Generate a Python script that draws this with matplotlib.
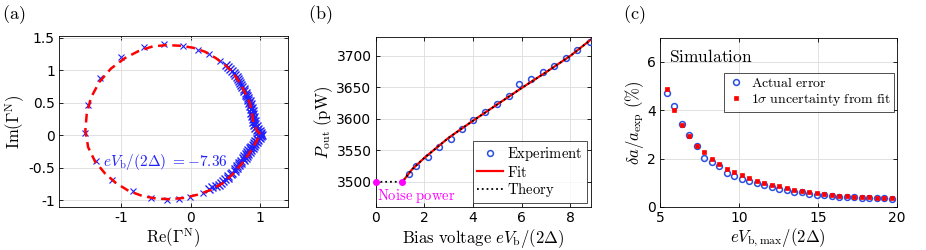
import numpy as np
import matplotlib.pyplot as plt

plt.rcParams['mathtext.fontset'] = 'cm'
plt.rcParams['font.family'] = 'DejaVu Sans'
plt.rcParams['font.size'] = 10

# (a) measured reflection coefficient (x markers) and fit (dashed)
# sparse points around the circle
re_sparse = [0.42, 0.26, 0.10, -0.11, -0.38, -0.67, -1.00, -1.31, -1.48, -1.53,
             -1.36, -1.13, -0.83, -0.57, -0.35, -0.17, -0.01, 0.18]
im_sparse = [1.15, 1.25, 1.31, 1.37, 1.40, 1.36, 1.20, 0.89, 0.47, 0.04,
             -0.39, -0.68, -0.86, -0.96, -0.99, -0.97, -0.95, -0.88]
# dense points near the cusp, upper branch
re_upper = [0.50, 0.53, 0.56, 0.59, 0.62, 0.64, 0.66, 0.68, 0.70, 0.71, 0.73,
            0.74, 0.76, 0.77, 0.79, 0.80, 0.81, 0.83, 0.82, 0.85, 0.84, 0.86,
            0.85, 0.88, 0.86, 0.89, 0.87, 0.90, 0.88, 0.91, 0.89, 0.92, 0.90,
            0.93, 0.91, 0.95, 0.93, 0.97, 0.95, 0.99, 0.97, 1.01, 0.99, 1.02, 1.00]
im_upper = [1.09, 1.06, 1.03, 0.99, 0.96, 0.93, 0.90, 0.87, 0.84, 0.81, 0.78,
            0.75, 0.72, 0.69, 0.66, 0.63, 0.60, 0.57, 0.55, 0.53, 0.50, 0.48,
            0.45, 0.43, 0.40, 0.38, 0.35, 0.33, 0.30, 0.28, 0.25, 0.23, 0.20,
            0.18, 0.16, 0.14, 0.12, 0.10, 0.08, 0.07, 0.05, 0.04, 0.02, 0.01, 0.00]
# dense points near the cusp, lower branch
re_lower = [1.01, 0.98, 0.99, 0.96, 0.97, 0.93, 0.95, 0.91, 0.93, 0.89, 0.91,
            0.87, 0.89, 0.85, 0.87, 0.83, 0.85, 0.81, 0.83, 0.79, 0.81, 0.77,
            0.79, 0.75, 0.76, 0.72, 0.73, 0.69, 0.70, 0.66, 0.67, 0.63, 0.63,
            0.59, 0.58, 0.54, 0.53, 0.49, 0.47, 0.43, 0.40, 0.36, 0.31, 0.26]
im_lower = [-0.01, -0.02, -0.04, -0.05, -0.07, -0.08, -0.10, -0.11, -0.13, -0.14,
            -0.16, -0.17, -0.19, -0.20, -0.22, -0.23, -0.25, -0.26, -0.28, -0.29,
            -0.31, -0.32, -0.34, -0.35, -0.38, -0.39, -0.42, -0.43, -0.46, -0.47,
            -0.50, -0.52, -0.55, -0.57, -0.60, -0.62, -0.65, -0.67, -0.70, -0.73,
            -0.76, -0.78, -0.80, -0.83]
re_fit = [1.00, 0.95, 0.90, 0.88, 0.85, 0.80, 0.72, 0.62, 0.50, 0.36, 0.20, 0.03,
          -0.15, -0.35, -0.55, -0.75, -0.95, -1.15, -1.32, -1.44, -1.50, -1.52,
          -1.48, -1.38, -1.24, -1.08, -0.90, -0.70, -0.50, -0.30, -0.10, 0.10,
          0.28, 0.45, 0.60, 0.73, 0.84, 0.93, 1.00]
im_fit = [0.02, 0.08, 0.20, 0.35, 0.50, 0.62, 0.78, 0.95, 1.08, 1.19, 1.29, 1.35,
          1.38, 1.39, 1.37, 1.30, 1.19, 1.03, 0.82, 0.58, 0.33, 0.08,
          -0.18, -0.40, -0.58, -0.73, -0.85, -0.93, -0.97, -0.98, -0.96, -0.91,
          -0.84, -0.74, -0.60, -0.44, -0.28, -0.12, 0.02]

# (b) output power vs bias voltage
v_exp = [1.39, 1.66, 2.14, 2.62, 3.10, 3.55, 4.02, 4.51, 4.99, 5.46, 5.91,
         6.39, 6.86, 7.35, 7.81, 8.27, 8.79]
p_exp = [3513, 3525, 3540, 3556, 3568, 3584, 3598, 3611, 3623, 3637, 3656,
         3664, 3674, 3684, 3696, 3710, 3722]
v_fit = [1.1, 1.5, 2.0, 3.0, 4.0, 5.0, 6.0, 7.0, 8.0, 8.85]
p_fit = [3500, 3520, 3538, 3570, 3597, 3623, 3649, 3674, 3700, 3726]
v_th = [0.0, 1.1, 1.5, 2.0, 3.0, 4.0, 5.0, 6.0, 7.0, 8.0, 8.85]
p_th = [3500, 3500, 3520, 3538, 3570, 3597, 3623, 3649, 3674, 3700, 3726]
v_noise = [0.0, 1.1]
p_noise = [3500, 3500]

# (c) simulated relative error
vmax = [5.42, 5.89, 6.37, 6.84, 7.32, 7.80, 8.27, 8.76, 9.23, 9.69, 10.18,
        10.64, 11.13, 11.59, 12.08, 12.54, 13.03, 13.49, 13.98, 14.44, 14.93,
        15.39, 15.88, 16.35, 16.83, 17.30, 17.78, 18.25, 18.73, 19.20, 19.68]
err_actual = [4.71, 4.16, 3.44, 2.99, 2.51, 2.01, 1.86, 1.69, 1.41, 1.30, 1.14,
              1.08, 1.00, 0.93, 0.83, 0.76, 0.71, 0.64, 0.60, 0.54, 0.51,
              0.48, 0.46, 0.43, 0.42, 0.40, 0.39, 0.37, 0.37, 0.36, 0.35]
err_fit = [4.89, 4.02, 3.41, 2.92, 2.54, 2.26, 1.97, 1.77, 1.59, 1.44, 1.32,
           1.19, 1.09, 1.00, 0.93, 0.85, 0.78, 0.72, 0.67, 0.61, 0.57,
           0.54, 0.50, 0.47, 0.44, 0.43, 0.42, 0.40, 0.39, 0.37, 0.36]

fig = plt.figure(figsize=(9.26, 2.5), dpi=100)
axa = fig.add_axes([0.0637, 0.172, 0.2473, 0.684])
axb = fig.add_axes([0.4057, 0.172, 0.2325, 0.680])
axc = fig.add_axes([0.7127, 0.172, 0.2556, 0.677])


def style(ax):
    ax.grid(True, color='#dcdcdc', lw=0.6)
    ax.set_axisbelow(True)
    ax.tick_params(direction='in', top=True, right=True, length=3, width=0.6,
                   labelsize=10, pad=3)
    for s in ax.spines.values():
        s.set_linewidth(0.6)


# panel a
blue = '#2020ff'
axa.plot(re_sparse, im_sparse, 'x', color=blue, ms=4, mew=0.8, zorder=2)
axa.plot(re_upper, im_upper, 'x', color=blue, ms=5.2, mew=1.0, zorder=2)
axa.plot(re_lower, im_lower, 'x', color=blue, ms=5.2, mew=1.0, zorder=2)
axa.plot(re_fit, im_fit, color='red', lw=1.8, dashes=(3.5, 2.2), zorder=3)
axa.text(-1.27, -0.41, r'$eV_\mathrm{b}/(2\Delta)\ {=}{-}7.36$',
         color=blue, fontsize=11, va='center')
axa.set_xlim(-1.9, 1.4)
axa.set_ylim(-1.1, 1.53)
axa.set_xticks([-1, 0, 1])
axa.set_yticks([-1, -0.5, 0, 0.5, 1, 1.5])
axa.set_yticklabels(['-1', '-0.5', '0', '0.5', '1', '1.5'])
axa.set_xticklabels(['-1', '0', '1'])
axa.set_xlabel(r'$\mathrm{Re}(\Gamma^\mathrm{N})$', fontsize=12, labelpad=1)
axa.set_ylabel(r'$\mathrm{Im}(\Gamma^\mathrm{N})$', fontsize=12, labelpad=1)
style(axa)

# panel b
axb.plot(v_exp, p_exp, 'o', mfc='none', mec='#2a4fe0', ms=4.2, mew=1.1,
         label=r'$\mathrm{Experiment}$', zorder=3)
axb.plot(v_fit, p_fit, '-', color='red', lw=1.6, label=r'$\mathrm{Fit}$', zorder=4)
axb.plot(v_th, p_th, ':', color='black', lw=1.3, label=r'$\mathrm{Theory}$', zorder=5)
axb.plot(v_noise, p_noise, 'o', color='magenta', ms=4, zorder=6, clip_on=False)
axb.text(0.05, 3491, r'$\mathrm{Noise\ power}$', color='magenta', fontsize=10.5,
         va='top', ha='left')
axb.set_xlim(0, 8.85)
axb.set_ylim(3460, 3730)
axb.set_xticks([0, 2, 4, 6, 8])
axb.set_yticks([3500, 3550, 3600, 3650, 3700])
axb.set_xlabel(r'$\mathrm{Bias\ voltage}\ eV_\mathrm{b}/(2\Delta)$', fontsize=12,
               labelpad=1)
axb.set_ylabel(r'$P_\mathrm{out}\ (\mathrm{pW})$', fontsize=12, labelpad=1)
leg = axb.legend(loc='lower right', fontsize=10.5, frameon=True, fancybox=False,
                 borderpad=0.25, labelspacing=0.1, handlelength=1.8,
                 handletextpad=0.3, borderaxespad=0.3)
leg.get_frame().set_edgecolor('black')
leg.get_frame().set_linewidth(0.6)
style(axb)

# panel c
axc.plot(vmax, err_actual, 'o', mfc='none', mec='#2a4fe0', ms=4.2, mew=1.1,
         label=r'$\mathrm{Actual\ error}$', zorder=3)
axc.plot(vmax, err_fit, 's', color='red', ms=2.6, mew=0.5,
         label=r'$1\sigma\ \mathrm{uncertainty\ from\ fit}$', zorder=4)
axc.text(0.04, 0.94, r'$\mathrm{Simulation}$', transform=axc.transAxes,
         fontsize=12.5, va='top', ha='left')
axc.set_xlim(5, 20)
axc.set_ylim(0, 7)
axc.set_xticks([5, 10, 15, 20])
axc.set_yticks([0, 2, 4, 6])
axc.set_xlabel(r'$eV_\mathrm{b,max}/(2\Delta)$', fontsize=12, labelpad=1)
axc.set_ylabel(r'$\delta a/a_\mathrm{exp}\ (\%)$', fontsize=12, labelpad=1)
leg = axc.legend(loc='upper right', bbox_to_anchor=(1.0, 0.81), fontsize=10,
                 frameon=True, fancybox=False, borderpad=0.25, labelspacing=0.15,
                 handlelength=1.2, handletextpad=0.5, borderaxespad=0.2)
leg.get_frame().set_edgecolor('black')
leg.get_frame().set_linewidth(0.6)
style(axc)

fig.text(0.002, 0.985, r'$\mathrm{(a)}$', fontsize=13, va='top', ha='left')
fig.text(0.333, 0.985, r'$\mathrm{(b)}$', fontsize=13, va='top', ha='left')
fig.text(0.673, 0.985, r'$\mathrm{(c)}$', fontsize=13, va='top', ha='left')

fig.savefig('out.png', dpi=100)
